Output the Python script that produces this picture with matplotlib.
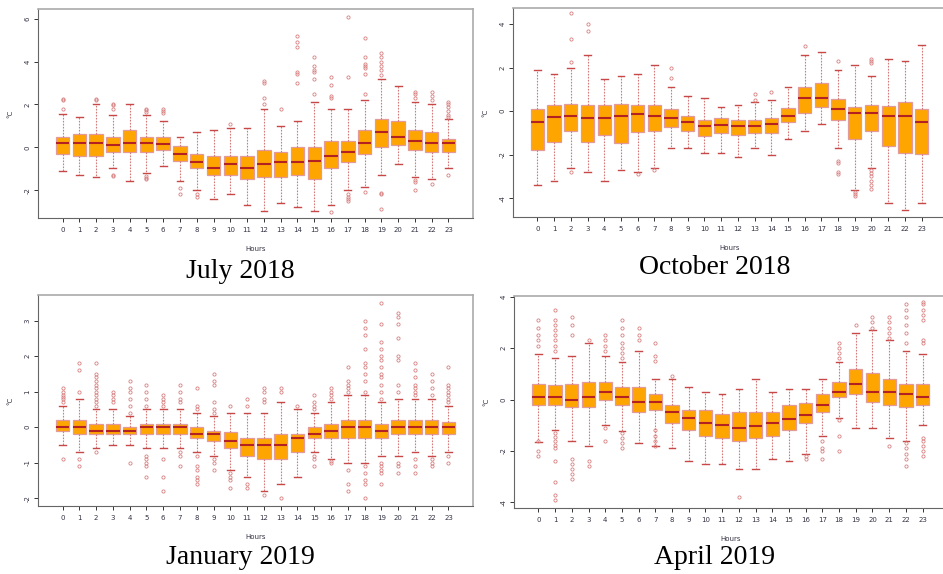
import matplotlib
matplotlib.use("Agg")
import matplotlib.pyplot as plt

hours = list(range(24))

# July 2018
jul_q1 = [-0.31, -0.4, -0.4, -0.23, -0.23, -0.23, -0.11, -0.62, -0.98, -1.28, -1.28, -1.48,
          -1.39, -1.39, -1.28, -1.48, -0.98, -0.7, -0.31, 0.0, 0.11, -0.11, -0.23, -0.23]
jul_med = [0.2, 0.2, 0.2, 0.1, 0.2, 0.2, 0.16, -0.31, -0.67, -0.98, -0.78, -0.98,
           -0.78, -0.69, -0.69, -0.62, -0.4, -0.2, 0.2, 0.7, 0.5, 0.31, 0.2, 0.2]
jul_q3 = [0.5, 0.62, 0.62, 0.5, 0.81, 0.5, 0.5, 0.08, -0.31, -0.4, -0.4, -0.4,
          -0.11, -0.22, 0.0, 0.0, 0.3, 0.3, 0.81, 1.32, 1.21, 0.81, 0.7, 0.4]
jul_lo = [-1.1, -1.28, -1.39, -0.98, -1.59, -1.2, -0.89, -1.59, -2.0, -2.4, -2.18, -2.68,
          -2.96, -2.59, -2.8, -2.96, -2.68, -2.0, -1.87, -1.28, -0.78, -1.39, -1.48, -0.98]
jul_hi = [1.55, 1.4, 2.0, 1.5, 2.0, 1.5, 1.23, 0.5, 0.7, 0.81, 0.9, 0.9,
          1.8, 1.01, 1.23, 2.09, 1.8, 1.8, 2.21, 3.19, 2.88, 2.09, 2.0, 1.32]
jul_out = [[1.8, 2.2, 2.25], [], [2.2, 2.25], [1.8, 1.95, 2.0, -1.3, -1.35], [],
           [1.65, 1.75, 1.8, -1.35, -1.45, -1.5], [1.6, 1.7, 1.8], [-1.9, -2.2], [-2.2, -2.3],
           [], [1.1], [], [2.0, 2.3, 3.0, 3.1], [1.8], [3.0, 3.4, 3.5, 4.7, 4.9, 5.2],
           [2.5, 3.2, 3.5, 3.6, 3.8, 4.2], [2.3, 2.4, 2.9, 3.3, -3.0],
           [3.3, 6.1, -2.2, -2.3, -2.4, -2.5], [2.5, 3.4, 3.7, 3.8, 3.9, 4.2, 5.1, -2.1],
           [3.35, 3.6, 3.8, 4.0, 4.2, 4.4, -2.15, -2.2, -2.9], [],
           [2.3, 2.5, 2.6, -1.55, -1.6, -2.0], [2.2, 2.4, 2.6, -1.7],
           [1.4, 1.5, 1.7, 1.9, 2.0, 2.1, -1.3]]

# October 2018
oct_q1 = [-1.8, -1.41, -0.92, -1.41, -1.1, -1.47, -0.98, -0.92, -0.72, -0.92, -1.16, -1.03,
          -1.1, -1.03, -1.03, -0.52, -0.11, 0.18, -0.41, -1.3, -0.92, -1.61, -1.93, -1.98]
oct_med = [-0.5, -0.25, -0.21, -0.31, -0.31, -0.21, -0.15, -0.21, -0.31, -0.5, -0.7, -0.64,
           -0.7, -0.7, -0.6, -0.21, 0.6, 0.6, 0.1, -0.11, -0.11, -0.21, -0.21, -0.5]
oct_q3 = [0.1, 0.28, 0.32, 0.28, 0.28, 0.32, 0.28, 0.28, 0.1, -0.23, -0.41, -0.31,
          -0.41, -0.41, -0.31, 0.14, 1.1, 1.29, 0.55, 0.2, 0.28, 0.25, 0.44, 0.1]
oct_lo = [-3.42, -3.22, -2.6, -2.8, -3.22, -2.7, -2.8, -2.6, -1.72, -1.72, -1.93, -1.93,
          -2.11, -1.72, -2.0, -1.27, -0.92, -0.6, -1.72, -3.62, -2.6, -4.21, -4.55, -4.21]
oct_hi = [1.9, 1.7, 1.98, 2.57, 1.49, 1.61, 1.7, 2.11, 1.09, 0.69, 0.6, 0.2,
          0.28, 0.41, 0.51, 1.09, 2.57, 2.71, 1.9, 2.1, 1.61, 2.39, 2.3, 3.03]
oct_out = [[], [], [2.28, 3.3, 4.5, -2.8], [3.7, 4.0], [], [], [-2.9], [-2.7], [1.5, 2.0],
           [], [], [], [], [0.5, 0.8], [0.9], [], [3.0], [],
           [2.3, -2.3, -2.4, -2.8, -2.9], [-3.7, -3.8, -3.9],
           [2.2, 2.3, 2.4, -2.7, -2.85, -3.0, -3.2, -3.4, -3.6], [], [], []]

# January 2019
jan_q1 = [-0.11, -0.2, -0.2, -0.2, -0.2, -0.2, -0.2, -0.2, -0.3, -0.4, -0.6, -0.8,
          -0.9, -0.9, -0.7, -0.3, -0.3, -0.3, -0.3, -0.3, -0.2, -0.2, -0.2, -0.2]
jan_med = [0.0, 0.0, -0.1, -0.1, -0.1, 0.0, 0.0, 0.0, -0.2, -0.2, -0.4, -0.5,
           -0.5, -0.5, -0.3, -0.2, -0.1, 0.0, 0.0, -0.1, 0.0, 0.0, 0.0, 0.0]
jan_q3 = [0.19, 0.2, 0.1, 0.1, 0.0, 0.1, 0.1, 0.1, 0.0, -0.1, -0.15, -0.3,
          -0.3, -0.2, -0.2, 0.0, 0.1, 0.2, 0.2, 0.1, 0.2, 0.2, 0.2, 0.15]
jan_lo = [-0.49, -0.7, -0.6, -0.5, -0.5, -0.6, -0.6, -0.6, -0.7, -0.8, -1.2, -1.4,
          -1.8, -1.6, -1.4, -0.7, -0.9, -1.0, -1.0, -0.8, -0.8, -0.7, -0.8, -0.7]
jan_hi = [0.6, 0.78, 0.5, 0.5, 0.3, 0.5, 0.5, 0.5, 0.4, 0.3, 0.4, 0.4,
          0.4, 0.7, 0.5, 0.4, 0.7, 0.9, 0.9, 0.7, 0.78, 0.78, 0.78, 0.6]
jan_out = [[0.7, 0.8, 0.85, 0.9, 1.0, 1.1, -0.9], [1.0, 1.6, 1.8, -0.9, -1.1],
           [0.6, 0.7, 0.8, 0.9, 1.0, 1.1, 1.2, 1.3, 1.4, 1.5, 1.8, -0.7], [0.7, 0.8, 0.9, 1.0],
           [0.4, 0.6, 0.8, 1.0, 1.1, 1.3, -1.0], [0.6, 0.8, 1.0, 1.2, -0.8, -0.9, -1.0, -1.1, -1.4],
           [0.6, 0.7, 0.8, 0.9, -0.9, -1.4, -1.8], [0.7, 0.8, 1.0, 1.2, -0.7, -0.8, -1.1],
           [0.5, 0.6, 1.1, -0.8, -1.1, -1.2, -1.4, -1.5, -1.6],
           [0.4, 0.5, 0.7, 1.2, 1.3, 1.5, -0.9, -1.0, -1.2], [0.6, -1.3, -1.4, -1.5, -1.7],
           [0.6, 0.8, -1.6, -1.7], [0.7, 0.8, 1.0, 1.1, -1.9], [1.0, 1.1, -2.0], [0.6],
           [0.5, 0.6, 0.7, 0.9, -0.8, -0.9, -1.1], [0.8, 0.9, 1.0, 1.1, -0.95, -1.0],
           [1.0, 1.1, 1.2, 1.3, 1.7, -1.2, -1.6, -1.8],
           [1.0, 1.3, 1.5, 1.7, 1.8, 2.2, 2.6, 2.8, 3.0, -1.1, -1.3, -1.5, -1.6, -2.0],
           [0.8, 1.0, 1.2, 1.4, 1.5, 1.7, 1.9, 2.0, 2.2, 2.4, 2.9, 3.5, -1.0, -1.1, -1.2, -1.3, -1.6],
           [1.0, 1.2, 1.9, 2.0, 2.5, 2.9, 3.1, 3.2, -1.0, -1.1, -1.3],
           [0.9, 1.0, 1.1, 1.2, 1.4, 1.6, 1.8, -0.9, -1.1, -1.3],
           [0.9, 1.1, 1.3, 1.5, -0.9, -1.0, -1.1],
           [0.7, 0.8, 0.9, 1.0, 1.1, 1.2, 1.7, -0.8, -1.0]]

# April 2019
apr_q1 = [-0.2, -0.2, -0.3, -0.3, 0.0, -0.2, -0.5, -0.4, -0.9, -1.2, -1.4, -1.5,
          -1.6, -1.5, -1.4, -1.2, -0.9, -0.5, 0.1, 0.2, -0.1, -0.2, -0.3, -0.2]
apr_med = [0.1, 0.1, 0.0, 0.1, 0.3, 0.1, -0.1, -0.1, -0.5, -0.7, -0.9, -1.0,
           -1.1, -1.04, -0.9, -0.74, -0.6, -0.2, 0.3, 0.6, 0.3, 0.3, 0.2, 0.1]
apr_q3 = [0.6, 0.56, 0.6, 0.7, 0.7, 0.5, 0.5, 0.2, -0.2, -0.4, -0.4, -0.56,
          -0.5, -0.5, -0.5, -0.2, -0.12, 0.2, 0.7, 1.2, 1.05, 0.8, 0.6, 0.6]
apr_lo = [-1.65, -1.2, -1.6, -1.8, -1.0, -1.22, -1.68, -1.8, -1.9, -2.4, -2.5, -2.5,
          -2.7, -2.7, -2.3, -2.4, -2.1, -1.4, -0.7, -1.1, -1.1, -1.5, -1.6, -1.0]
apr_hi = [1.79, 1.6, 1.7, 2.22, 1.7, 1.48, 1.9, 0.8, 0.8, 0.5, 0.3, 0.2,
          0.4, 0.8, 0.3, 0.4, 0.4, 0.8, 1.48, 2.6, 2.7, 2.3, 1.9, 1.79]
apr_out = [[2.1, 2.3, 2.5, 2.8, 3.1, -1.6, -2.0, -2.2],
           [1.9, 2.1, 2.3, 2.5, 2.7, 2.9, 3.1, 3.5, -1.3, -1.45, -1.6, -1.75, -1.9, -2.4, -3.2, -3.7, -3.9],
           [2.5, 2.9, 3.2, -2.3, -2.5, -2.7, -2.9, -3.1], [2.3, -2.4, -2.6],
           [1.9, 2.1, 2.3, 2.5, -1.1, -1.6],
           [1.6, 1.8, 2.0, 2.2, 2.5, 2.8, 3.1, -1.3, -1.5, -1.7, -1.9], [2.3, 2.5, 2.8],
           [1.5, 1.7, 2.2, -1.2, -1.4, -1.6, -1.8], [0.9], [], [], [], [-3.8], [], [], [],
           [-2.2, -2.3], [-1.6, -1.9, -2.0, -2.3], [1.6, 1.8, 2.0, 2.2, -0.8, -1.4, -2.0],
           [2.9], [2.8, 3.0, 3.2], [2.4, 2.6, 2.8, 3.0, 3.2, -1.8],
           [2.2, 2.6, 2.9, 3.2, 3.5, 3.7, -1.7, -1.9, -2.1, -2.3, -2.6],
           [2.2, 2.3, 3.1, 3.3, 3.5, 3.7, 3.8, -1.5, -1.6, -1.8, -2.0, -2.2]]

panels = [
    ("July 2018", jul_q1, jul_med, jul_q3, jul_lo, jul_hi, jul_out, (-3.3, 6.45), [-2, 0, 2, 4, 6],
     [38, 9, 473, 218], (240, 272)),
    ("October 2018", oct_q1, oct_med, oct_q3, oct_lo, oct_hi, oct_out, (-4.87, 4.74), [-4, -2, 0, 2, 4],
     [513, 8, 946, 217], (715, 267)),
    ("January 2019", jan_q1, jan_med, jan_q3, jan_lo, jan_hi, jan_out, (-2.22, 3.72), [-2, -1, 0, 1, 2, 3],
     [38, 295, 473, 506], (240, 557)),
    ("April 2019", apr_q1, apr_med, apr_q3, apr_lo, apr_hi, apr_out, (-4.22, 4.03), [-4, -2, 0, 2, 4],
     [514, 296, 947, 508], (715, 558)),
]

W, H = 943, 574
fig = plt.figure(figsize=(W / 100, H / 100), dpi=100)

for title, q1, med, q3, lo, hi, out, ylim, yticks, box, tpos in panels:
    x0, y0, x1, y1 = box
    ax = fig.add_axes([x0 / W, 1 - y1 / H, (x1 - x0) / W, (y1 - y0) / H])
    stats = []
    for i in hours:
        stats.append(dict(med=med[i], q1=q1[i], q3=q3[i], whislo=lo[i], whishi=hi[i], fliers=out[i]))
    ax.bxp(stats, positions=hours, widths=0.8, capwidths=0.4, patch_artist=True,
           boxprops=dict(facecolor="#ffa500", edgecolor="#e39a9a", linewidth=0.9),
           medianprops=dict(color="#b22222", linewidth=1.5),
           whiskerprops=dict(color="#d47a7a", linewidth=0.8, linestyle=(0, (1.5, 1.2))),
           capprops=dict(color="#c84848", linewidth=1.0),
           flierprops=dict(marker="o", markersize=2.3, markerfacecolor="none",
                           markeredgecolor="#d88080", markeredgewidth=0.6))
    ax.set_xlim(-1.46, 24.46)
    ax.set_ylim(*ylim)
    ax.set_xticks(hours)
    ax.set_xticklabels([str(h) for h in hours], fontsize=5, color="#333344")
    ax.set_yticks(yticks)
    ax.set_yticklabels([str(t) for t in yticks], fontsize=5, color="#333344", rotation=90, va="center")
    ax.tick_params(length=3, width=0.7, color="#333333")
    ax.tick_params(axis="x", pad=3.5)
    ax.tick_params(axis="y", pad=2.5)
    for s in ["left", "bottom"]:
        ax.spines[s].set_color("#666666")
    for s in ["top", "right"]:
        ax.spines[s].set_color("#aaaaaa")
        ax.spines[s].set_linewidth(1.2)
    ax.set_xlabel("Hours", fontsize=5, color="#333344", labelpad=9)
    ax.set_ylabel("°C", fontsize=5, color="#333344", labelpad=8)
    fig.text(tpos[0] / W, 1 - tpos[1] / H, title, ha="center", va="center",
             fontsize=20, family="Liberation Serif")

fig.savefig("out.png", dpi=100)
